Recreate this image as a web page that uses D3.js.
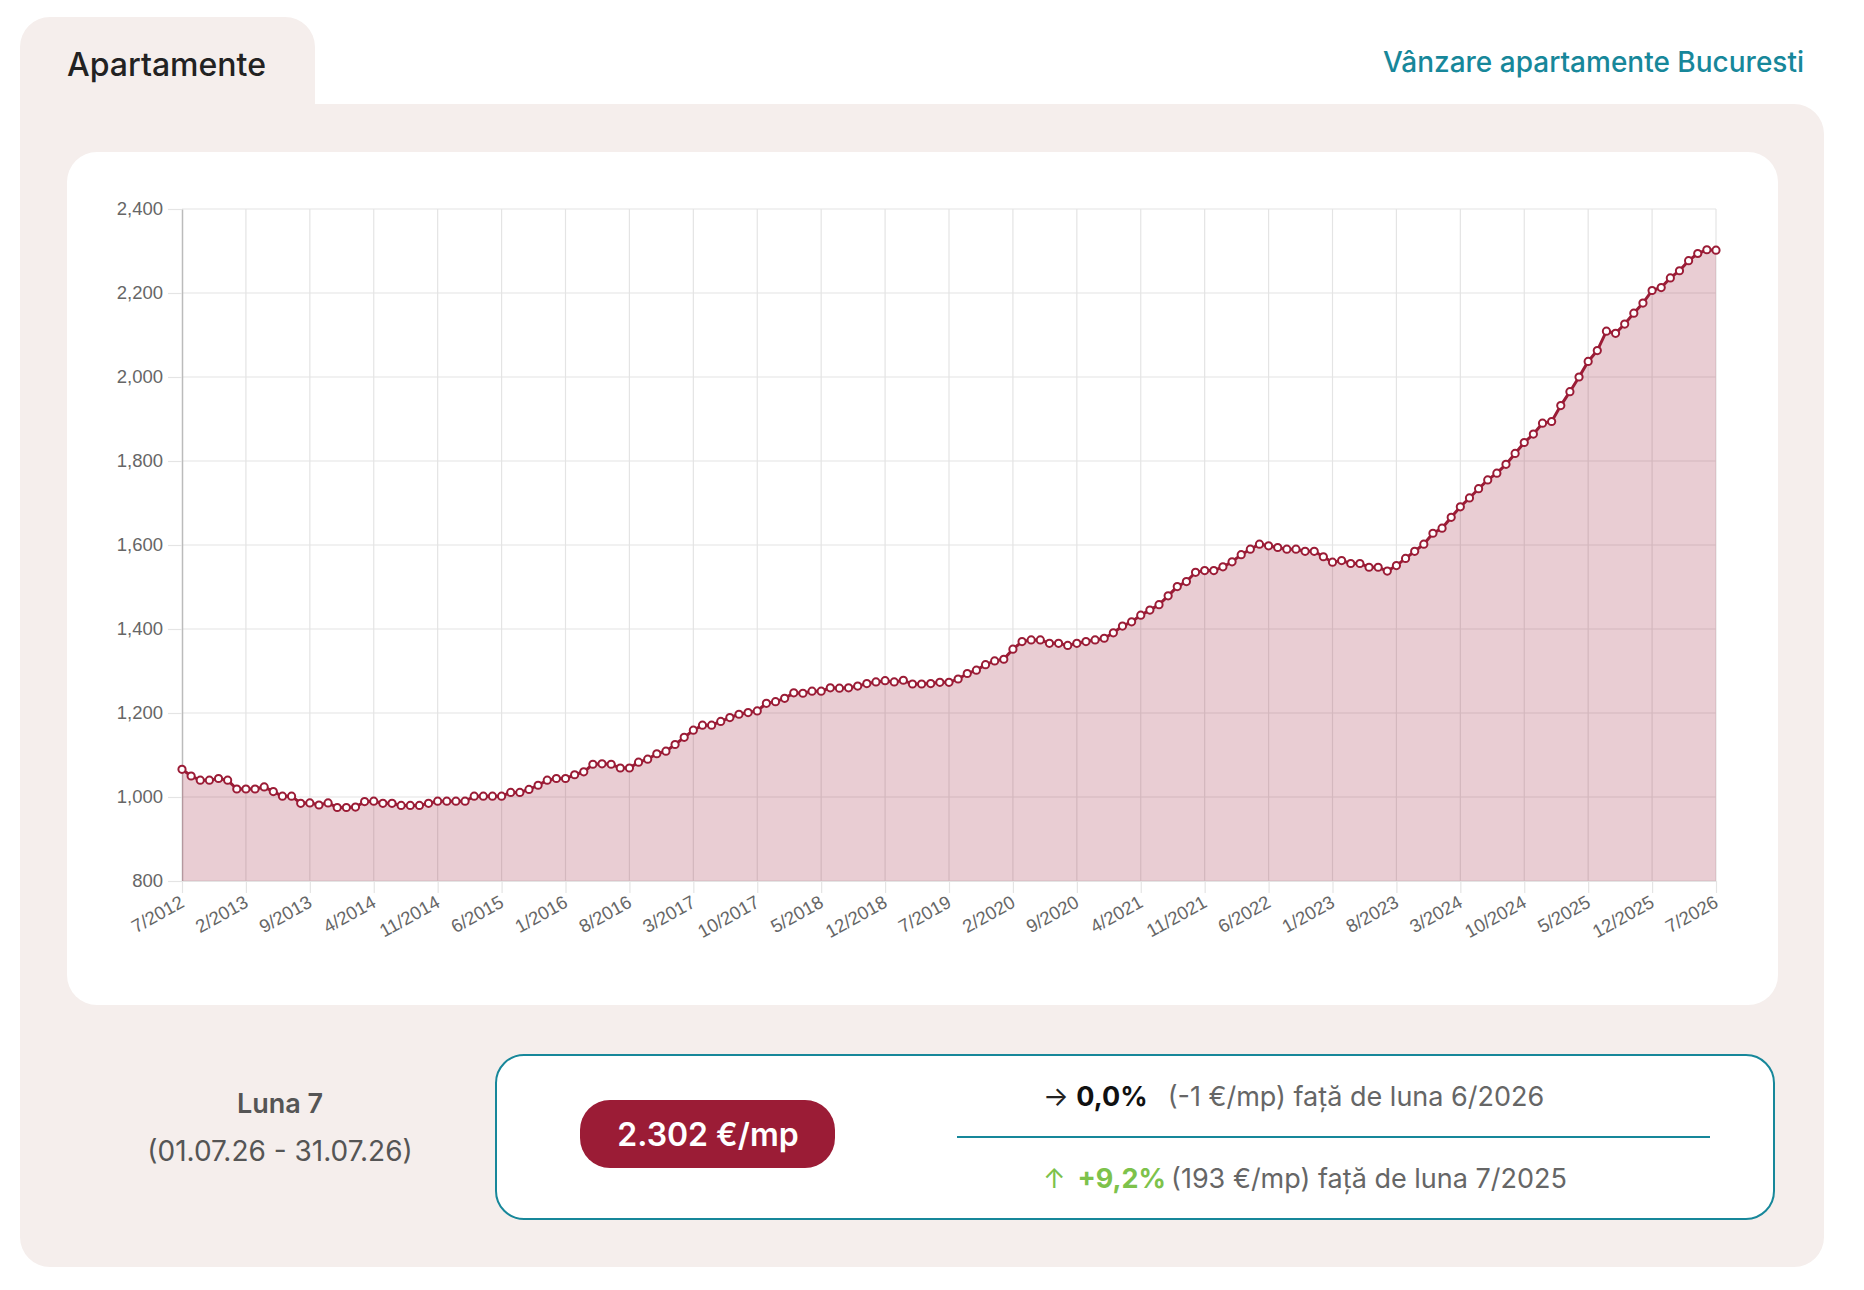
<!DOCTYPE html>
<html>
<head>
	<meta charset="utf-8">
	<title>Apartamente</title>
	<script src="https://d3js.org/d3.v7.min.js" charset="utf-8"></script>
	<style>
		body { margin: 0; background: #fff; }
		text { font-family: Inter, "Noto Sans", sans-serif; }
		.axis text { font-family: "Liberation Sans", Arial, sans-serif; }
	</style>
</head>
<body>
	<svg width="1864" height="1290"></svg>
	<script>
		// monthly price per sqm, 7/2012 .. 7/2026
		const startYear = 2012, startMonth = 7;
		const prices = [
			1066,1050,1040,1040,1044,1040,1019,1019,1019,1024,1013,1002,1002,985,986,981,986,975,975,976,
			989,990,985,985,980,980,980,985,990,990,990,990,1002,1002,1002,1002,1011,1011,1018,1028,
			1040,1044,1044,1053,1060,1078,1079,1078,1069,1069,1083,1090,
			1103,1109,1125,1142,1159,1171,1171,1180,1189,1197,1201,1205,1223,1227,1235,1248,1247,1252,1252,1260,
			1259,1260,1264,1270,1274,1277,1274,1278,1269,1269,1270,1273,1273,1281,1294,1302,1315,1324,1328,1352,
			1370,1374,1374,1366,1366,1361,1366,1370,1374,
			1378,1391,1407,1417,1433,1445,1458,1479,1501,1513,1535,1539,1539,1548,1560,1577,1590,1602,1598,1594,
			1590,1590,1585,1585,1572,1559,1563,1556,1556,1547,1547,1538,1551,1568,1585,
			1602,1628,1640,1666,1691,1712,1734,1755,1771,1792,1818,1844,1864,1890,1894,1932,1965,2000,2037,2063,
			2109,2104,2126,2152,2176,2206,2213,2236,2253,2277,2294,2303,2302
		];
		const tickLabels = ['7/2012','2/2013','9/2013','4/2014','11/2014','6/2015','1/2016','8/2016','3/2017',
			'10/2017','5/2018','12/2018','7/2019','2/2020','9/2020','4/2021','11/2021','6/2022','1/2023',
			'8/2023','3/2024','10/2024','5/2025','12/2025','7/2026'];
		const yTicks = [800, 1000, 1200, 1400, 1600, 1800, 2000, 2200, 2400];

		const months = prices.map(function(d, i) {
			const m = (startMonth - 1 + i) % 12 + 1;
			const y = startYear + Math.floor((startMonth - 1 + i) / 12);
			return m + '/' + y;
		});
		const data = prices.map(function(v, i) { return { month: months[i], value: v }; });

		const teal = '#17879a';
		const wine = '#9b1c36';

		var svg = d3.select('svg');

		// panel with tab
		svg.append('path')
			.attr('d', 'M20,47 A30,30 0 0 1 50,17 H285 A30,30 0 0 1 315,47 V104 H1794 A30,30 0 0 1 1824,134 V1237 A30,30 0 0 1 1794,1267 H50 A30,30 0 0 1 20,1237 Z')
			.attr('fill', '#f5eeec');

		svg.append('text')
			.attr('x', 67).attr('y', 76)
			.attr('font-size', 32).attr('font-weight', 500)
			.attr('fill', '#222')
			.text('Apartamente');

		svg.append('text')
			.attr('x', 1804).attr('y', 72)
			.attr('text-anchor', 'end')
			.attr('font-size', 28).attr('font-weight', 500)
			.attr('fill', teal)
			.text('Vânzare apartamente Bucuresti');

		// chart card
		svg.append('rect')
			.attr('x', 67).attr('y', 152)
			.attr('width', 1711).attr('height', 853)
			.attr('rx', 30)
			.attr('fill', '#fff');

		const x = d3.scalePoint().domain(months).range([182, 1716]);
		const y = d3.scaleLinear().domain([800, 2400]).range([881, 209]);

		const chart = svg.append('g');

		// grid
		chart.append('g').selectAll('line')
			.data(yTicks).enter().append('line')
			.attr('x1', 182).attr('x2', 1716)
			.attr('y1', function(d) { return y(d); })
			.attr('y2', function(d) { return y(d); })
			.attr('stroke', '#e4e4e4').attr('stroke-width', 1.2);

		chart.append('g').selectAll('line')
			.data(tickLabels.slice(1)).enter().append('line')
			.attr('x1', function(d) { return x(d); })
			.attr('x2', function(d) { return x(d); })
			.attr('y1', 209).attr('y2', 881)
			.attr('stroke', '#e4e4e4').attr('stroke-width', 1.2);

		// axes
		const yAxis = chart.append('g')
			.attr('class', 'axis')
			.attr('transform', 'translate(182,0)')
			.call(d3.axisLeft(y).tickValues(yTicks).tickSize(14).tickSizeOuter(0).tickPadding(5).tickFormat(d3.format(',')));
		yAxis.select('.domain').attr('stroke', '#bbb').attr('stroke-width', 1.5);
		yAxis.selectAll('.tick line').attr('stroke', '#e4e4e4').attr('stroke-width', 1.2);
		yAxis.selectAll('.tick text').attr('font-size', 18.5).attr('fill', '#666');

		const xAxis = chart.append('g')
			.attr('class', 'axis')
			.attr('transform', 'translate(0,881)')
			.call(d3.axisBottom(x).tickValues(tickLabels).tickSize(12).tickSizeOuter(0));
		xAxis.select('.domain').attr('stroke', '#e4e4e4').attr('stroke-width', 1.2);
		xAxis.selectAll('.tick line').attr('stroke', '#e4e4e4').attr('stroke-width', 1.2);
		xAxis.selectAll('.tick text')
			.attr('font-size', 18.5).attr('fill', '#666')
			.attr('text-anchor', 'end')
			.attr('dy', null)
			.attr('y', 0)
			.attr('transform', 'translate(3,25) rotate(-29)');

		// area + line + points
		const area = d3.area()
			.x(function(d) { return x(d.month); })
			.y0(y(800))
			.y1(function(d) { return y(d.value); });
		chart.append('path')
			.datum(data)
			.attr('d', area)
			.attr('fill', 'rgba(155,28,54,0.22)');

		const line = d3.line()
			.x(function(d) { return x(d.month); })
			.y(function(d) { return y(d.value); });
		chart.append('path')
			.datum(data)
			.attr('d', line)
			.attr('fill', 'none')
			.attr('stroke', wine)
			.attr('stroke-width', 3);

		chart.selectAll('circle')
			.data(data).enter().append('circle')
			.attr('cx', function(d) { return x(d.month); })
			.attr('cy', function(d) { return y(d.value); })
			.attr('r', 3.6)
			.attr('fill', '#fff')
			.attr('stroke', wine)
			.attr('stroke-width', 2);

		// bottom summary
		svg.append('text')
			.attr('x', 280).attr('y', 1113)
			.attr('text-anchor', 'middle')
			.attr('font-size', 27).attr('font-weight', 600)
			.attr('fill', '#555')
			.text('Luna 7');
		svg.append('text')
			.attr('x', 280).attr('y', 1161)
			.attr('text-anchor', 'middle')
			.attr('font-size', 28)
			.attr('fill', '#555')
			.text('(01.07.26 - 31.07.26)');

		svg.append('rect')
			.attr('x', 496).attr('y', 1055)
			.attr('width', 1278).attr('height', 164)
			.attr('rx', 28)
			.attr('fill', '#fff')
			.attr('stroke', teal).attr('stroke-width', 2);

		svg.append('rect')
			.attr('x', 580).attr('y', 1100)
			.attr('width', 255).attr('height', 68)
			.attr('rx', 30)
			.attr('fill', wine);
		svg.append('text')
			.attr('x', 708).attr('y', 1146)
			.attr('text-anchor', 'middle')
			.attr('font-size', 32).attr('font-weight', 600)
			.attr('fill', '#fff')
			.text('2.302 €/mp');

		const l1 = svg.append('text')
			.attr('x', 1043).attr('y', 1106)
			.attr('font-size', 27);
		l1.append('tspan').attr('fill', '#222').text('→ ');
		l1.append('tspan').attr('fill', '#111').attr('font-weight', 700).text('0,0%');
		l1.append('tspan').attr('fill', '#666').attr('dx', 20).text('(-1 €/mp) față de luna 6/2026');

		svg.append('line')
			.attr('x1', 957).attr('x2', 1710)
			.attr('y1', 1137).attr('y2', 1137)
			.attr('stroke', teal).attr('stroke-width', 2);

		const l2 = svg.append('text')
			.attr('x', 1043).attr('y', 1188)
			.attr('font-size', 27);
		l2.append('tspan').attr('fill', '#7dc24b').text('↑');
		l2.append('tspan').attr('fill', '#7dc24b').attr('font-weight', 700).attr('dx', 12).text('+9,2%');
		l2.append('tspan').attr('fill', '#666').attr('dx', 5).text('(193 €/mp) față de luna 7/2025');
	</script>
</body>
</html>
